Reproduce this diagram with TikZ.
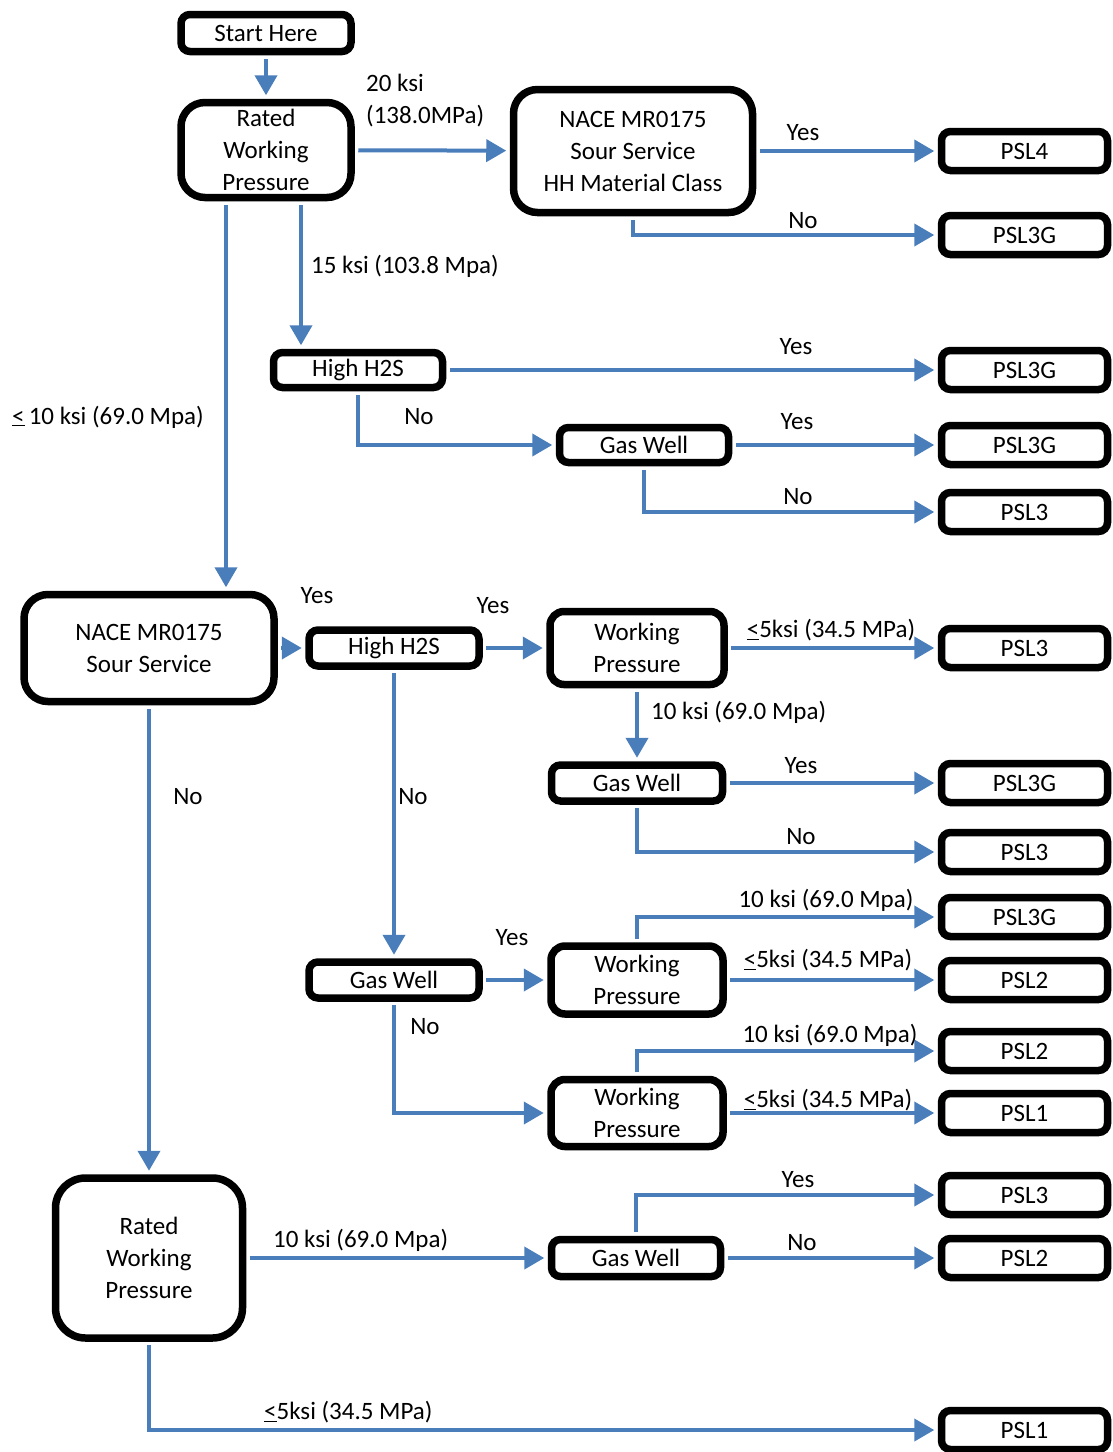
\documentclass[tikz,border=0pt]{standalone}
\usepackage{fontspec}
\setmainfont{Carlito}
\usetikzlibrary{arrows.meta}
\definecolor{flowblue}{RGB}{74,126,187}

\begin{document}
\begin{tikzpicture}[x=1pt,y=-1pt,
  font=\fontsize{25}{32}\selectfont,
  box/.style={draw,line width=7.5pt,rounded corners=9pt,inner sep=0pt,align=center},
  bigbox/.style={box,rounded corners=24pt},
  pslbox/.style={box,minimum width=166pt,minimum height=39pt},
  flow/.style={draw=flowblue,line width=4pt,-{Triangle[length=20pt,width=22pt]},
    shorten >=3.5pt,shorten <=3.5pt},
  lbl/.style={inner sep=0pt}]
  \useasboundingbox (0,0) rectangle (1113,1452);

  % left and middle boxes
  \node[box,minimum width=170pt,minimum height=37pt] (start) at (266,33) {Start Here};
  \node[bigbox,minimum width=170pt,minimum height=95pt] (rwp1) at (266,150) {Rated\\Working\\Pressure};
  \node[bigbox,minimum width=239pt,minimum height=123pt] (nacehh) at (633,151) {NACE MR0175\\Sour Service\\HH Material Class};
  \node[box,minimum width=169pt,minimum height=35pt] (h2sa) at (358,370) {High H2S};
  \node[box,minimum width=169pt,minimum height=35pt] (gwa) at (644,445) {Gas Well};
  \node[bigbox,minimum width=250pt,minimum height=107pt] (nace) at (149,648) {NACE MR0175\\Sour Service};
  \node[box,minimum width=170pt,minimum height=36pt] (h2sb) at (394,648) {High H2S};
  \node[bigbox,rounded corners=14pt,minimum width=174pt,minimum height=73pt] (wpa) at (637,648) {Working\\Pressure};
  \node[box,minimum width=171pt,minimum height=36pt] (gwb) at (637,783) {Gas Well};
  \node[box,minimum width=170pt,minimum height=36pt] (gwc) at (394,980) {Gas Well};
  \node[bigbox,rounded corners=14pt,minimum width=172pt,minimum height=68pt] (wpb) at (637,980) {Working\\Pressure};
  \node[bigbox,rounded corners=14pt,minimum width=172pt,minimum height=67pt] (wpc) at (637,1113) {Working\\Pressure};
  \node[bigbox,rounded corners=30pt,minimum width=187pt,minimum height=160pt] (rwpb) at (149,1258) {Rated\\Working\\Pressure};
  \node[box,minimum width=169pt,minimum height=37pt] (gwd) at (636,1258) {Gas Well};

  % result boxes
  \node[pslbox] (psl4)  at (1024.5,151)  {PSL4};
  \node[pslbox] (psl3ga) at (1024.5,235) {PSL3G};
  \node[pslbox] (psl3gb) at (1024.5,370) {PSL3G};
  \node[pslbox] (psl3gc) at (1024.5,445) {PSL3G};
  \node[pslbox] (psl3a) at (1024.5,512)  {PSL3};
  \node[pslbox] (psl3b) at (1024.5,648)  {PSL3};
  \node[pslbox] (psl3gd) at (1024.5,783) {PSL3G};
  \node[pslbox] (psl3c) at (1024.5,852)  {PSL3};
  \node[pslbox] (psl3ge) at (1024.5,917) {PSL3G};
  \node[pslbox] (psl2a) at (1024.5,980)  {PSL2};
  \node[pslbox] (psl2b) at (1024.5,1051) {PSL2};
  \node[pslbox] (psl1a) at (1024.5,1113) {PSL1};
  \node[pslbox] (psl3d) at (1024.5,1195) {PSL3};
  \node[pslbox] (psl2c) at (1024.5,1258) {PSL2};
  \node[pslbox] (psl1b) at (1024.5,1430) {PSL1};

  % connectors
  \coordinate (rwpL) at ([xshift=-40pt]rwp1.south);
  \coordinate (rwpR) at ([xshift=35pt]rwp1.south);
  \draw[flow] (start) -- (rwp1);
  \draw[flow] (rwp1) -- (nacehh);
  \draw[flow] (nacehh) -- (psl4);
  \draw[flow] (nacehh.south) |- (psl3ga);
  \draw[flow] (rwpR) -- (rwpR |- h2sa.north);
  \draw[flow] (rwpL) -- (rwpL |- nace.north);
  \draw[flow] (h2sa) -- (psl3gb);
  \draw[flow] (h2sa.south) |- (gwa);
  \draw[flow] (gwa) -- (psl3gc);
  \draw[flow] (gwa.south) |- (psl3a);
  \draw[flow] (nace) -- (h2sb);
  \draw[flow] (h2sb) -- (wpa);
  \draw[flow] (wpa) -- (psl3b);
  \draw[flow] (wpa) -- (gwb);
  \draw[flow] (gwb) -- (psl3gd);
  \draw[flow] (gwb.south) |- (psl3c);
  \draw[flow] (h2sb) -- (gwc);
  \draw[flow] (nace) -- (rwpb);
  \draw[flow] (gwc) -- (wpb);
  \draw[flow] (wpb.north) |- (psl3ge);
  \draw[flow] (wpb) -- (psl2a);
  \draw[flow] (gwc.south) |- (wpc);
  \draw[flow] (wpc.north) |- (psl2b);
  \draw[flow] (wpc) -- (psl1a);
  \draw[flow] (rwpb) -- (gwd);
  \draw[flow] (gwd.north) |- (psl3d);
  \draw[flow] (gwd) -- (psl2c);
  \draw[flow] (rwpb.south) |- (psl1b);

  % labels
  \node[lbl,anchor=west,align=left] (l20) at (366,101) {20 ksi\\(138.0MPa)};
  \node[lbl] (lyes1) at (803,133) {Yes};
  \node[lbl] (lno1) at (803,221) {No};
  \node[lbl,anchor=west] (l15) at (311,266) {15 ksi (103.8 Mpa)};
  \node[lbl,anchor=west] (l10a) at (12,417) {\underline{<}\,10 ksi (69.0 Mpa)};
  \node[lbl] (lyes2) at (796,347) {Yes};
  \node[lbl] (lno2) at (419,417) {No};
  \node[lbl] (lyes3) at (797,422) {Yes};
  \node[lbl] (lno3) at (798,497) {No};
  \node[lbl] (lyes4) at (317,596) {Yes};
  \node[lbl] (lyes5) at (493,606) {Yes};
  \node[lbl] (l5a) at (831,630) {\underline{<}5ksi (34.5 MPa)};
  \node[lbl,anchor=west] (l10b) at (651,712) {10 ksi (69.0 Mpa)};
  \node[lbl] (lyes6) at (801,766) {Yes};
  \node[lbl] (lno4) at (801,837) {No};
  \node[lbl] (lno5) at (188,797) {No};
  \node[lbl] (lno6) at (413,797) {No};
  \node[lbl] (lyes7) at (512,938) {Yes};
  \node[lbl] (l10c) at (826,900) {10 ksi (69.0 Mpa)};
  \node[lbl] (l5b) at (828,960) {\underline{<}5ksi (34.5 MPa)};
  \node[lbl] (lno7) at (425,1027) {No};
  \node[lbl] (l10d) at (830,1035) {10 ksi (69.0 Mpa)};
  \node[lbl] (l5c) at (828,1100) {\underline{<}5ksi (34.5 MPa)};
  \node[lbl] (lyes8) at (798,1180) {Yes};
  \node[lbl] (lno8) at (802,1243) {No};
  \node[lbl,anchor=west] (l10e) at (273,1240) {10 ksi (69.0 Mpa)};
  \node[lbl,anchor=west] (l5d) at (264,1412) {\underline{<}5ksi (34.5 MPa)};
\end{tikzpicture}
\end{document}
